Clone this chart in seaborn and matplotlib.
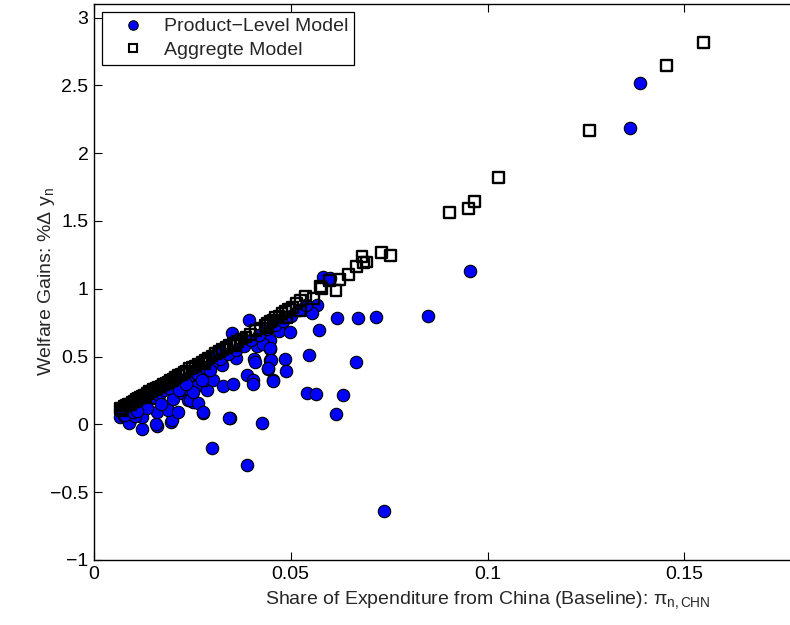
import numpy as np
import pandas as pd
import matplotlib
matplotlib.use("Agg")
import matplotlib.pyplot as plt
from matplotlib.lines import Line2D
import seaborn as sns

# ---------------- data ----------------
prod_x = [0.0066, 0.0075, 0.0092, 0.0089, 0.0121, 0.0121, 0.0159, 0.0158, 0.0196, 0.0197,
          0.0125, 0.0092, 0.0163, 0.0159, 0.0189, 0.0214, 0.0200, 0.0223, 0.0239, 0.0252,
          0.0252, 0.0223, 0.0265, 0.0244, 0.0265, 0.0278, 0.0257, 0.0252, 0.0287, 0.0282,
          0.0303, 0.0327, 0.0354, 0.0388, 0.0405, 0.0405, 0.0325, 0.0320, 0.0312, 0.0361,
          0.0407, 0.0410, 0.0447, 0.0486, 0.0488, 0.0443, 0.0456, 0.0414, 0.0447, 0.0446,
          0.0350, 0.0395, 0.0469, 0.0498, 0.0430, 0.0448, 0.0449, 0.0442, 0.0455, 0.0547,
          0.0541, 0.0565, 0.0632, 0.0615, 0.0426, 0.0346, 0.0277, 0.0344, 0.0299, 0.0390,
          0.0737, 0.0566, 0.0553, 0.0573, 0.0618, 0.0672, 0.0717, 0.0849, 0.0665, 0.0582,
          0.0600, 0.0956, 0.1363, 0.1388,
          0.0075, 0.0085, 0.0095, 0.0105, 0.0115, 0.0128, 0.0140, 0.0150, 0.0165, 0.0178,
          0.0190, 0.0210, 0.0225, 0.0240, 0.0260, 0.0280, 0.0300, 0.0320, 0.0340, 0.0360,
          0.0380, 0.0400, 0.0420, 0.0440, 0.0460, 0.0480, 0.0500, 0.0520, 0.0540, 0.0105,
          0.0135, 0.0170, 0.0215, 0.0233, 0.0275, 0.0295, 0.0070, 0.0080, 0.0100, 0.0110]
prod_y = [0.054, 0.059, 0.030, 0.007, -0.032, 0.052, -0.012, 0.000, 0.017, 0.030,
          0.128, 0.098, 0.189, 0.091, 0.103, 0.091, 0.189, 0.229, 0.177, 0.164,
          0.265, 0.302, 0.361, 0.177, 0.157, 0.083, 0.275, 0.238, 0.256, 0.324,
          0.324, 0.280, 0.295, 0.361, 0.329, 0.300, 0.435, 0.533, 0.526, 0.489,
          0.484, 0.459, 0.472, 0.479, 0.393, 0.410, 0.324, 0.575, 0.558, 0.625,
          0.673, 0.772, 0.688, 0.681, 0.590, 0.560, 0.472, 0.413, 0.319, 0.509,
          0.229, 0.221, 0.216, 0.074, 0.007, 0.047, 0.088, 0.044, -0.175, -0.300,
          -0.640, 0.878, 0.818, 0.693, 0.784, 0.788, 0.789, 0.796, 0.457, 1.086,
          1.076, 1.128, 2.183, 2.515,
          0.080, 0.090, 0.110, 0.130, 0.140, 0.170, 0.190, 0.200, 0.220, 0.250,
          0.270, 0.300, 0.330, 0.350, 0.380, 0.420, 0.450, 0.480, 0.520, 0.550,
          0.580, 0.620, 0.660, 0.700, 0.730, 0.760, 0.800, 0.840, 0.880, 0.060,
          0.120, 0.150, 0.250, 0.300, 0.330, 0.400, 0.110, 0.070, 0.090, 0.100]

agg_x = [0.0068, 0.0072, 0.0078, 0.0083, 0.0088, 0.0092, 0.0097, 0.0102, 0.0108, 0.0113,
         0.0118, 0.0124, 0.0129, 0.0135, 0.0141, 0.0147, 0.0152, 0.0158, 0.0164, 0.0170,
         0.0176, 0.0183, 0.0189, 0.0195, 0.0201, 0.0208, 0.0215, 0.0222, 0.0229, 0.0236,
         0.0243, 0.0251, 0.0258, 0.0266, 0.0275, 0.0283, 0.0291, 0.0300, 0.0309, 0.0318,
         0.0327, 0.0336, 0.0345, 0.0354, 0.0364, 0.0375, 0.0386, 0.0398, 0.0410, 0.0422,
         0.0435, 0.0441, 0.0448, 0.0455, 0.0462, 0.0470, 0.0478, 0.0486, 0.0494, 0.0505,
         0.0514, 0.0524, 0.0537, 0.0557, 0.0575, 0.0579, 0.0598, 0.0615, 0.0625, 0.0646,
         0.0668, 0.0681, 0.0685, 0.0693, 0.0731, 0.0753, 0.0903, 0.0951, 0.0966, 0.1027,
         0.1259, 0.1454, 0.1548, 0.0524, 0.0490, 0.0440, 0.0360, 0.0280, 0.0200, 0.0130]
agg_y = [0.118, 0.105, 0.135, 0.140, 0.150, 0.145, 0.165, 0.170, 0.185, 0.190,
         0.200, 0.210, 0.215, 0.225, 0.240, 0.245, 0.255, 0.265, 0.275, 0.280,
         0.295, 0.300, 0.310, 0.325, 0.330, 0.345, 0.360, 0.370, 0.385, 0.390,
         0.410, 0.420, 0.430, 0.445, 0.460, 0.475, 0.490, 0.505, 0.520, 0.535,
         0.550, 0.565, 0.580, 0.595, 0.610, 0.630, 0.645, 0.665, 0.690, 0.705,
         0.730, 0.745, 0.760, 0.770, 0.790, 0.800, 0.815, 0.830, 0.845, 0.860,
         0.890, 0.914, 0.946, 0.931, 1.018, 1.003, 1.062, 0.988, 1.069, 1.106,
         1.167, 1.239, 1.195, 1.197, 1.268, 1.246, 1.563, 1.593, 1.645, 1.822,
         2.168, 2.647, 2.817, 0.840, 0.790, 0.710, 0.580, 0.450, 0.320, 0.200]

series_labels = ["Product\u2212Level Model", "Aggregte Model"]
x_ticks = [0, 0.05, 0.1, 0.15]
x_tick_labels = ["0", "0.05", "0.1", "0.15"]
y_ticks = [-1, -0.5, 0, 0.5, 1, 1.5, 2, 2.5, 3]
y_tick_labels = ["\u22121", "\u22120.5", "0", "0.5", "1", "1.5", "2", "2.5", "3"]

# ---------------- plotting ----------------
sns.set_style("ticks")
plt.rcParams["font.family"] = ["Liberation Sans", "DejaVu Sans"]
plt.rcParams["mathtext.fontset"] = "custom"
plt.rcParams["mathtext.rm"] = "Liberation Sans"
plt.rcParams["mathtext.it"] = "Liberation Sans"

FS = 14

fig = plt.figure(figsize=(7.9, 6.25), dpi=100)
# the axes run to x = 0.2, beyond the right edge of the saved image (as in the reference)
ax = fig.add_axes([94 / 790, 65 / 625, 787 / 790, 556 / 625])

df_p = pd.DataFrame({"x": prod_x, "y": prod_y})
df_a = pd.DataFrame({"x": agg_x, "y": agg_y})

sns.scatterplot(data=df_p, x="x", y="y", ax=ax, marker="o", s=80,
                color="#0000ff", edgecolor="black", linewidth=0.8,
                legend=False, zorder=2)
sns.scatterplot(data=df_a, x="x", y="y", ax=ax, marker="s", s=60,
                facecolor="none", edgecolor="black", linewidth=1.7,
                legend=False, zorder=3)

ax.set_xlim(0, 0.2)
ax.set_ylim(-1, 3.1)
ax.set_xticks(x_ticks)
ax.set_xticklabels(x_tick_labels)
ax.set_yticks(y_ticks)
ax.set_yticklabels(y_tick_labels)

ax.tick_params(direction="in", length=6, width=0.8, top=True, right=True,
               labelsize=FS, colors="black", pad=4)
for sp in ax.spines.values():
    sp.set_visible(True)
    sp.set_linewidth(1.0)
    sp.set_color("black")

ax.set_xlabel(r"Share of Expenditure from China (Baseline): $\pi_{\mathrm{n,CHN}}$",
              fontsize=FS, labelpad=5)
ax.set_ylabel(r"Welfare Gains: %$\Delta$ y$_{\mathrm{n}}$", fontsize=FS)
ax.yaxis.set_label_coords((57 - 94) / 787, 0.5)

handles = [
    Line2D([], [], linestyle="none", marker="o", markersize=6.8,
           markerfacecolor="#0000ff", markeredgecolor="black", markeredgewidth=0.8),
    Line2D([], [], linestyle="none", marker="s", markersize=5.6,
           markerfacecolor="white", markeredgecolor="black", markeredgewidth=1.5),
]
leg = ax.legend(handles, series_labels, loc="upper left",
                bbox_to_anchor=(8 / 787, 1 - 8 / 556), borderaxespad=0,
                fontsize=FS, frameon=True, fancybox=False, framealpha=1,
                edgecolor="black", handletextpad=0.3, borderpad=0.3,
                labelspacing=0.3, handlelength=2.6, numpoints=1)
leg.get_frame().set_linewidth(0.9)

fig.savefig("out.png", dpi=100)
